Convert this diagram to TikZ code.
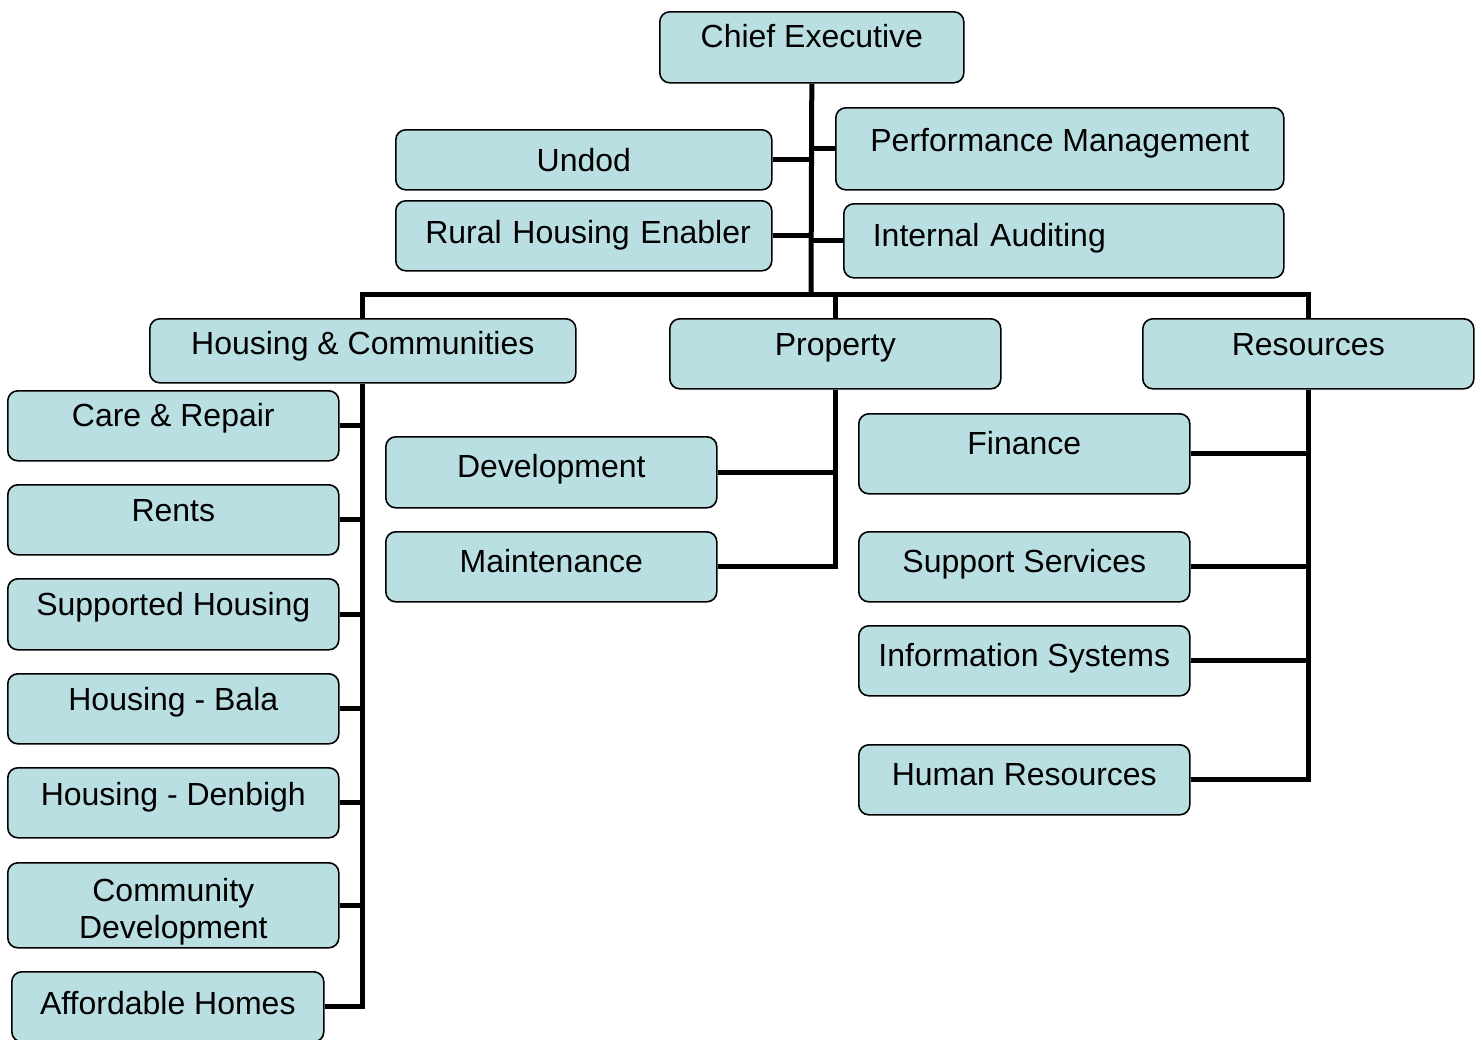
\documentclass[tikz,border=0pt]{standalone}
\usepackage{fontspec}
\setmainfont{Liberation Sans}
\usepackage{xcolor}
\definecolor{boxfill}{RGB}{186,223,227}
\tikzset{>=latex}
\tikzset{
  box/.style={draw, fill=boxfill, rounded corners=5pt, line width=0.8pt,
    anchor=north west, inner xsep=0pt, inner ysep=0pt, align=center,
    font=\fontsize{16}{18.5}\selectfont},
  bw/.style={minimum width=#1*0.5pt},
  tt/.style 2 args={text height=#1pt, text depth=#2pt},
  link/.style={line width=2.5pt}
}

\begin{document}
\begin{tikzpicture}[x=0.5pt,y=-0.5pt]
  \useasboundingbox (0,0) rectangle (1476,1039);
  % top level
  \node[box,bw=304,tt={18}{17.5}] (ce) at (659,11) {Chief Executive};
  \node[box,bw=376,tt={21}{9}] (undod) at (395,129) {Undod};
  \node[box,text width=167pt,inner xsep=10.5pt,align=right,tt={21.5}{13.5}] (rhe) at (395,200) {Rural Housing Enabler};
  \node[box,bw=448,tt={22}{19}] (perf) at (835,107) {Performance Management};
  \node[box,text width=191pt,inner xsep=14.5pt,align=left,tt={21.5}{15.5}] (ia) at (843,203) {Internal Auditing};
  % departments
  \node[box,bw=426,tt={18}{14}] (hc) at (149,318) {Housing \& Communities};
  \node[box,bw=331,tt={18.5}{16.5}] (prop) at (669,318) {Property};
  \node[box,bw=331,tt={18.5}{16.5}] (res) at (1142,318) {Resources};
  % housing & communities
  \node[box,bw=331,tt={18}{17}] (care) at (7,390) {Care \& Repair};
  \node[box,bw=331,tt={18.5}{16.5}] (rents) at (7,484) {Rents};
  \node[box,bw=331,tt={18.5}{17}] (supp) at (7,578) {Supported Housing};
  \node[box,bw=331,tt={18.5}{16.5}] (bala) at (7,673) {Housing - Bala};
  \node[box,bw=331,tt={19}{16}] (denb) at (7,767) {Housing - Denbigh};
  \node[box,bw=331,tt={37.75}{4.75}] (comm) at (7,862) {Community\\Development};
  \node[box,bw=312,tt={21.5}{13.5}] (aff) at (11,971) {Affordable Homes};
  % property
  \node[box,bw=331,tt={20.5}{15}] (dev) at (385,436) {Development};
  \node[box,bw=331,tt={20.5}{14.5}] (maint) at (385,531) {Maintenance};
  % resources
  \node[box,bw=331,tt={20.5}{19.5}] (fin) at (858,413) {Finance};
  \node[box,bw=331,tt={20.5}{14.5}] (supsrv) at (858,531) {Support Services};
  \node[box,bw=331,tt={20.5}{14.5}] (info) at (858,625) {Information Systems};
  \node[box,bw=331,tt={20.5}{14.5}] (hr) at (858,744) {Human Resources};

  \coordinate (bar) at (811,294);
  \draw[link] (ce.south) -- (bar);
  \draw[link] (undod.east) -- (undod.east -| ce.south);
  \draw[link] (rhe.east) -- (rhe.east -| ce.south);
  \draw[link] (perf.west) -- (perf.west -| ce.south);
  \draw[link] (ia.west) -- (ia.west -| ce.south);
  \draw[link] (hc.north) |- (bar) -| (res.north);
  \draw[link] (prop.north) -- (prop.north |- bar);

  \draw[link] (hc.south) |- (aff.east);
  \foreach \n in {care,rents,supp,bala,denb,comm}
    \draw[link] (\n.east) -- (\n.east -| hc.south);
  \draw[link] (prop.south) |- (maint.east);
  \draw[link] (dev.east) -- (dev.east -| prop.south);
  \draw[link] (res.south) |- (hr.east);
  \foreach \n in {fin,supsrv,info}
    \draw[link] (\n.east) -- (\n.east -| res.south);
\end{tikzpicture}
\end{document}
